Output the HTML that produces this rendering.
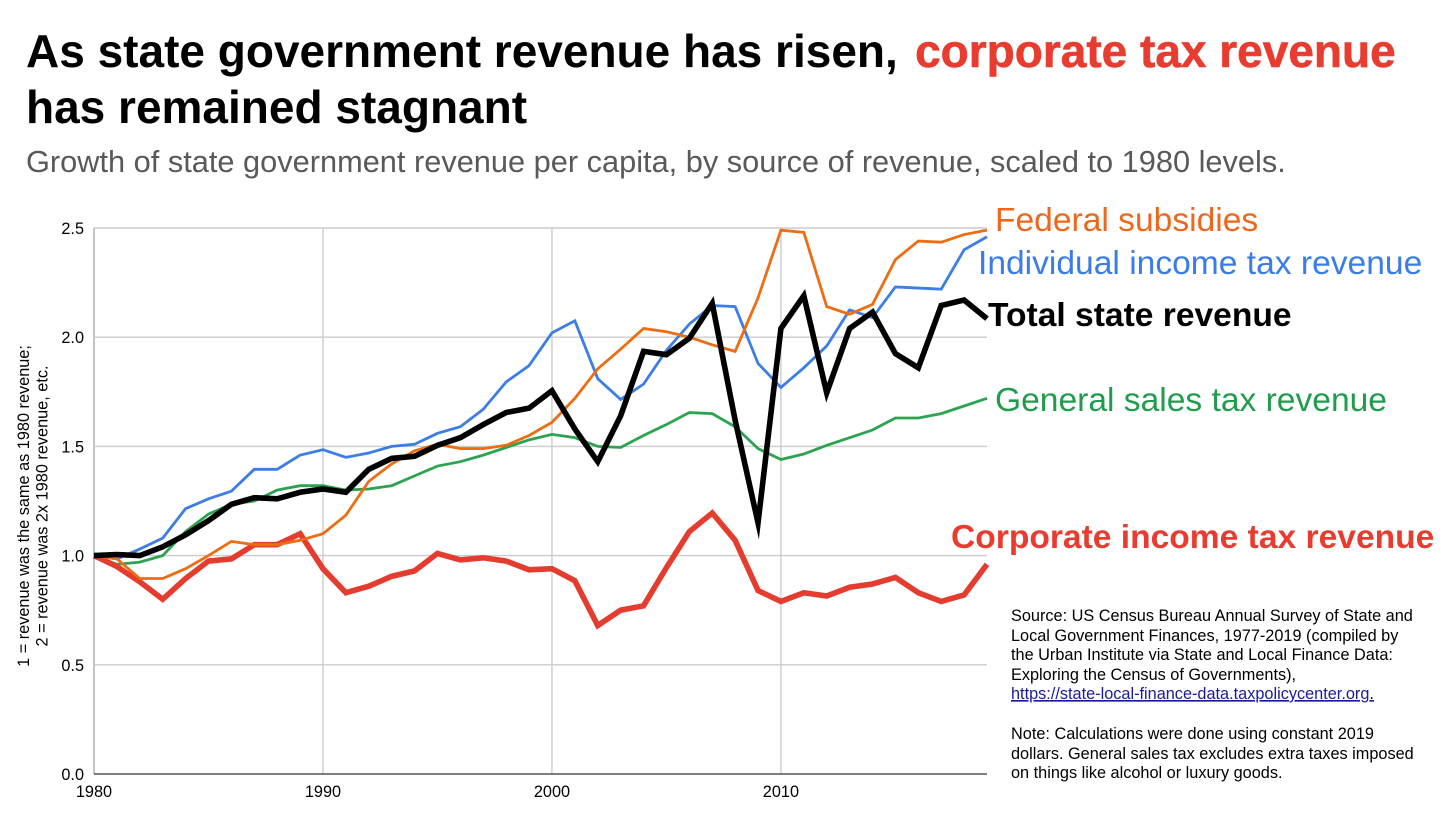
<!DOCTYPE html>
<html lang="en">
<head>
<meta charset="utf-8">
<title>State government revenue growth</title>
<style>
html,body{margin:0;padding:0;background:#fff;}
svg{display:block;font-family:"Liberation Sans",Arial,sans-serif;}
</style>
</head>
<body>
<svg id="chart" width="1456" height="832" viewBox="0 0 1456 832" xmlns="http://www.w3.org/2000/svg">
  <rect x="0" y="0" width="1456" height="832" fill="#ffffff"/>
  <text x="26" y="67" font-size="46" font-weight="700" fill="#000000">As state government revenue has risen, <tspan dx="4.5" fill="#e93c30" stroke="#e93c30" stroke-width="0.6">corporate tax revenue</tspan></text>
  <text x="26" y="123" font-size="46" font-weight="700" fill="#000000">has remained stagnant</text>
  <text x="26" y="172" font-size="30.75" fill="#595959">Growth of state government revenue per capita, by source of revenue, scaled to 1980 levels.</text>

  <g id="grid"></g>
  <g id="ticks"></g>
  <g id="series"></g>

  <g font-size="16.3" fill="#000000" text-anchor="middle">
    <text transform="translate(29 506) rotate(-90)">1 = revenue was the same as 1980 revenue;</text>
    <text transform="translate(47.5 506) rotate(-90)">2 = revenue was 2x 1980 revenue, etc.</text>
  </g>

  <text x="995" y="231" font-size="33.6" fill="#f0661a">Federal subsidies</text>
  <text x="978" y="274" font-size="33.6" fill="#3a7ce8">Individual income tax revenue</text>
  <text x="988" y="326" font-size="33.6" font-weight="700" fill="#000000">Total state revenue</text>
  <text x="995" y="411" font-size="33.6" fill="#1f9d4d">General sales tax revenue</text>
  <text x="951" y="548" font-size="33.6" font-weight="700" fill="#e93c30">Corporate income tax revenue</text>

  <g font-size="16.3" fill="#000000">
    <text x="1011" y="621">Source: US Census Bureau Annual Survey of State and</text>
    <text x="1011" y="641">Local Government Finances, 1977-2019 (compiled by</text>
    <text x="1011" y="660">the Urban Institute via State and Local Finance Data:</text>
    <text x="1011" y="680">Exploring the Census of Governments),</text>
    <text x="1011" y="699" fill="#1a1a9c" text-decoration="underline">https://state-local-finance-data.taxpolicycenter.org<tspan fill="#000000">.</tspan></text>
    <text x="1011" y="739">Note: Calculations were done using constant 2019</text>
    <text x="1011" y="759">dollars. General sales tax excludes extra taxes imposed</text>
    <text x="1011" y="778">on things like alcohol or luxury goods.</text>
  </g>
</svg>
<script>
const years = [1980,1981,1982,1983,1984,1985,1986,1987,1988,1989,1990,1991,1992,1993,1994,1995,1996,1997,1998,1999,2000,2001,2002,2003,2004,2005,2006,2007,2008,2009,2010,2011,2012,2013,2014,2015,2016,2017,2018,2019];
const xTickLabels = [1980,1990,2000,2010];
const yTickLabels = [0,0.5,1,1.5,2,2.5];
const federalSubsidies = [1.00,0.985,0.895,0.895,0.94,1.00,1.065,1.05,1.05,1.07,1.10,1.185,1.34,1.42,1.48,1.51,1.49,1.49,1.505,1.55,1.61,1.72,1.855,1.945,2.04,2.025,2.00,1.965,1.935,2.18,2.49,2.48,2.14,2.105,2.15,2.355,2.44,2.435,2.47,2.49];
const individualIncomeTax = [1.00,0.985,1.03,1.08,1.215,1.26,1.295,1.395,1.395,1.46,1.485,1.45,1.47,1.50,1.51,1.56,1.59,1.67,1.795,1.87,2.02,2.075,1.81,1.715,1.785,1.94,2.06,2.145,2.14,1.88,1.77,1.86,1.96,2.125,2.09,2.23,2.225,2.22,2.40,2.46];
const generalSalesTax = [1.00,0.96,0.97,1.00,1.11,1.19,1.235,1.25,1.30,1.32,1.32,1.30,1.305,1.32,1.365,1.41,1.43,1.46,1.495,1.53,1.555,1.54,1.50,1.495,1.55,1.60,1.655,1.65,1.59,1.49,1.44,1.465,1.505,1.54,1.575,1.63,1.63,1.65,1.685,1.72];
const corporateIncomeTax = [1.00,0.95,0.88,0.80,0.895,0.975,0.985,1.05,1.05,1.10,0.94,0.83,0.86,0.905,0.93,1.01,0.98,0.99,0.975,0.935,0.94,0.885,0.68,0.75,0.77,0.945,1.11,1.195,1.07,0.84,0.79,0.83,0.815,0.855,0.87,0.90,0.83,0.79,0.82,0.96];
const totalStateRevenue = [1.00,1.005,1.00,1.04,1.095,1.16,1.235,1.265,1.26,1.29,1.305,1.29,1.395,1.445,1.455,1.505,1.54,1.60,1.655,1.675,1.755,1.58,1.43,1.64,1.935,1.92,1.995,2.155,1.62,1.15,2.04,2.19,1.745,2.04,2.115,1.925,1.86,2.145,2.17,2.085];

const NS = 'http://www.w3.org/2000/svg';
const plot = {left: 94, right: 987, top: 228, bottom: 774};
const xMin = 1980, xMax = 2019, yMax = 2.5;
function xScale(v) { return plot.left + (v - xMin) / (xMax - xMin) * (plot.right - plot.left); }
function yScale(v) { return plot.bottom - v / yMax * (plot.bottom - plot.top); }

const gridGroup = document.getElementById('grid');
const tickGroup = document.getElementById('ticks');
const seriesGroup = document.getElementById('series');

yTickLabels.forEach(function (v) {
  const line = document.createElementNS(NS, 'line');
  
  
  line.setAttribute('x1', plot.left);
  line.setAttribute('x2', plot.right);
  line.setAttribute('y1', yScale(v));
  line.setAttribute('y2', yScale(v));
  line.setAttribute('stroke', v === 0 ? '#333333' : '#cccccc');
  line.setAttribute('stroke-width', v === 0 ? 1.2 : 1.4);
  gridGroup.appendChild(line);
  const label = document.createElementNS(NS, 'text');
  
  
  label.setAttribute('x', 84);
  label.setAttribute('y', yScale(v) + 6);
  label.setAttribute('text-anchor', 'end');
  label.setAttribute('font-size', '16.3');
  label.setAttribute('fill', '#000000');
  label.textContent = v.toFixed(1);
  tickGroup.appendChild(label);
});

xTickLabels.forEach(function (v) {
  const line = document.createElementNS(NS, 'line');
  
  
  line.setAttribute('x1', xScale(v));
  line.setAttribute('x2', xScale(v));
  line.setAttribute('y1', plot.top);
  line.setAttribute('y2', plot.bottom);
  line.setAttribute('stroke', v === xMin ? '#aaaaaa' : '#cccccc');
  line.setAttribute('stroke-width', 1.4);
  gridGroup.insertBefore(line, gridGroup.firstChild);
  const label = document.createElementNS(NS, 'text');
  
  
  label.setAttribute('x', xScale(v));
  label.setAttribute('y', 797);
  label.setAttribute('text-anchor', 'middle');
  label.setAttribute('font-size', '16.3');
  label.setAttribute('fill', '#000000');
  label.textContent = v;
  tickGroup.appendChild(label);
});

function drawSeries(values, color, width) {
  const path = document.createElementNS(NS, 'polyline');
  path.setAttribute('points', values.map(function (v, i) {
    return xScale(years[i]).toFixed(2) + ',' + yScale(v).toFixed(2);
  }).join(' '));
  path.setAttribute('fill', 'none');
  path.setAttribute('stroke', color);
  path.setAttribute('stroke-width', width);
  path.setAttribute('stroke-linejoin', 'miter');
  path.setAttribute('stroke-miterlimit', '6');
  seriesGroup.appendChild(path);
  return path;
}

const lineGeneralSales = drawSeries(generalSalesTax, '#2ba350', 2.8);


const lineIndividual = drawSeries(individualIncomeTax, '#3c7de6', 2.8);


const lineCorporate = drawSeries(corporateIncomeTax, '#e53c30', 5.6);


const lineFederal = drawSeries(federalSubsidies, '#ee6c12', 2.8);


const lineTotal = drawSeries(totalStateRevenue, '#000000', 5.6);


</script>
</body>
</html>
